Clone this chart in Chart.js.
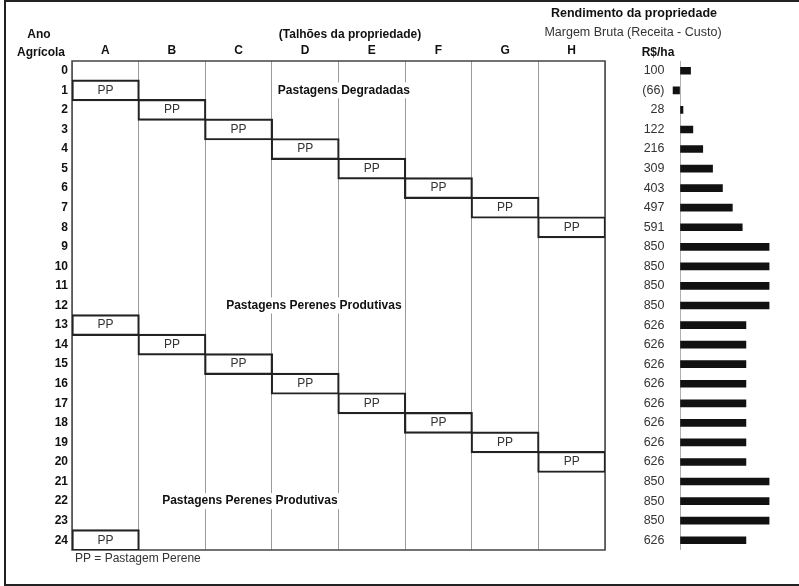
<!DOCTYPE html>
<html>
<head>
<meta charset="utf-8">
<script src="https://cdn.jsdelivr.net/npm/chart.js@4.4.0/dist/chart.umd.min.js"></script>
<style>
  body { margin: 0; background: #fff; }
  #wrap { position: relative; width: 799px; height: 586px; overflow: hidden; }
  #frame { position: absolute; left: 4px; top: 0; width: 900px; height: 582px; border: 2px solid #222; }
  canvas { position: absolute; top: 0; }
  #grid { left: 0; }
  #bars { left: 600px; }
</style>
</head>
<body>
<div id="wrap">
  <div id="frame"></div>
  <canvas id="grid" width="799" height="586"></canvas>
  <canvas id="bars" width="199" height="586"></canvas>
</div>
<script>
const FONT = '"Liberation Sans", Arial, sans-serif';

// anos agricolas (linhas)
const anos = ['0','1','2','3','4','5','6','7','8','9','10','11','12',
              '13','14','15','16','17','18','19','20','21','22','23','24'];
// talhoes (colunas)
const talhoes = ['A','B','C','D','E','F','G','H'];
// talhao com pastagem perene (PP) em cada ano
const ppTalhao = [null,'A','B','C','D','E','F','G','H',null,null,null,null,
                  'A','B','C','D','E','F','G','H',null,null,null,'A'];
// margem bruta R$/ha por ano
const margemBruta = [100,-66,28,122,216,309,403,497,591,850,850,850,850,
                     626,626,626,626,626,626,626,626,850,850,850,626];
// textos das faixas: [texto, ano, posicao no eixo dos talhoes]
const faixas = [
  ['Pastagens Degradadas', 1, 4.08],
  ['Pastagens Perenes Produtivas', 12, 3.63],
  ['Pastagens Perenes Produtivas', 22, 2.67]
];

const fmt = v => v < 0 ? '(' + (-v) + ')' : String(v);

const gridPlugin = {
  id: 'gridExtras',
  beforeDatasetsDraw(chart) {
    const { ctx, chartArea: a } = chart;
    ctx.save();
    ctx.strokeStyle = '#444';
    ctx.lineWidth = 1.5;
    ctx.strokeRect(a.left, a.top, a.right - a.left, a.bottom - a.top);
    ctx.restore();
  },
  afterDatasetsDraw(chart) {
    const { ctx, scales } = chart;
    ctx.save();
    ctx.textAlign = 'center';
    ctx.textBaseline = 'middle';

    // "PP" dentro das caixas
    ctx.font = '12px ' + FONT;
    ctx.fillStyle = '#333';
    chart.getDatasetMeta(0).data.forEach((el, i) => {
      if (!ppTalhao[i]) return;
      const p = el.getProps(['x', 'y', 'base'], true);
      ctx.fillText('PP', (p.x + p.base) / 2, p.y);
    });

    // faixas
    ctx.font = 'bold 12px ' + FONT;
    faixas.forEach(([txt, ano, pos]) => {
      const x = scales.x.getPixelForValue(pos);
      const y = scales.y.getPixelForValue(ano);
      const w = ctx.measureText(txt).width;
      ctx.fillStyle = '#fff';
      ctx.fillRect(x - w / 2 - 2, y - 8, w + 4, 16);
      ctx.fillStyle = '#111';
      ctx.fillText(txt, x, y);
    });

    // cabecalhos
    ctx.fillStyle = '#111';
    ctx.fillText('Ano', 39, 35);
    ctx.fillText('Agrícola', 41, 53);
    ctx.fillText('(Talhões da propriedade)', 350, 35);
    ctx.font = 'bold 12.5px ' + FONT;
    ctx.fillText('Rendimento da propriedade', 634, 14);
    ctx.font = 'bold 12px ' + FONT;
    ctx.fillText('R$/ha', 658, 53);
    ctx.font = '12.5px ' + FONT;
    ctx.fillStyle = '#333';
    ctx.fillText('Margem Bruta (Receita - Custo)', 633, 33);
    ctx.font = '12px ' + FONT;
    ctx.textAlign = 'left';
    ctx.fillText('PP = Pastagem Perene', 75, 559);
    ctx.restore();
  }
};

new Chart(document.getElementById('grid'), {
  type: 'bar',
  data: {
    labels: anos,
    datasets: [{
      data: ppTalhao.map(t => t ? [talhoes.indexOf(t), talhoes.indexOf(t) + 1] : null),
      backgroundColor: '#fff',
      borderColor: '#222',
      borderWidth: 2.2,
      borderSkipped: false,
      inflateAmount: 1.1,
      categoryPercentage: 1,
      barPercentage: 1
    }]
  },
  options: {
    indexAxis: 'y',
    responsive: false,
    animation: false,
    layout: { padding: { right: 194, bottom: 36 } },
    plugins: { legend: { display: false }, tooltip: { enabled: false } },
    scales: {
      x: {
        type: 'linear', position: 'bottom', min: 0, max: 8,
        ticks: { display: false, stepSize: 1 },
        grid: { color: '#9a9a9a', lineWidth: 1, drawTicks: false },
        border: { display: false },
        afterFit: s => { s.height = 0; }
      },
      talhao: {
        type: 'category', axis: 'x', position: 'top', labels: talhoes, offset: true,
        grid: { display: false, drawTicks: false },
        border: { display: false },
        ticks: { color: '#111', padding: 3, font: { family: FONT, size: 12, weight: 'bold' } },
        afterFit: s => { s.height = 61; }
      },
      y: {
        type: 'category',
        grid: { display: false, drawTicks: false },
        border: { display: false },
        ticks: { color: '#111', padding: 4, autoSkip: false, font: { family: FONT, size: 12, weight: 'bold' } },
        afterFit: s => { s.width = 72; }
      }
    }
  },
  plugins: [gridPlugin]
});

new Chart(document.getElementById('bars'), {
  type: 'bar',
  data: {
    labels: anos,
    datasets: [{ data: margemBruta, backgroundColor: '#111', barThickness: 7 }]
  },
  options: {
    indexAxis: 'y',
    responsive: false,
    animation: false,
    layout: { padding: { top: 61, right: 29.5, bottom: 36 } },
    plugins: { legend: { display: false }, tooltip: { enabled: false } },
    scales: {
      x: {
        min: -100, max: 850,
        ticks: { display: false, stepSize: 50 },
        grid: { drawTicks: false, lineWidth: 1, color: c => (c.tick && c.tick.value === 0) ? '#b0b0b0' : 'rgba(0,0,0,0)' },
        border: { display: false },
        afterFit: s => { s.height = 0; }
      },
      y: {
        grid: { display: false, drawTicks: false },
        border: { display: false },
        ticks: {
          autoSkip: false, padding: 5, color: '#333',
          font: { family: FONT, size: 12.5 },
          callback: (v, i) => fmt(margemBruta[i])
        },
        afterFit: s => { s.width = 69.5; }
      }
    }
  }
});
</script>
</body>
</html>
